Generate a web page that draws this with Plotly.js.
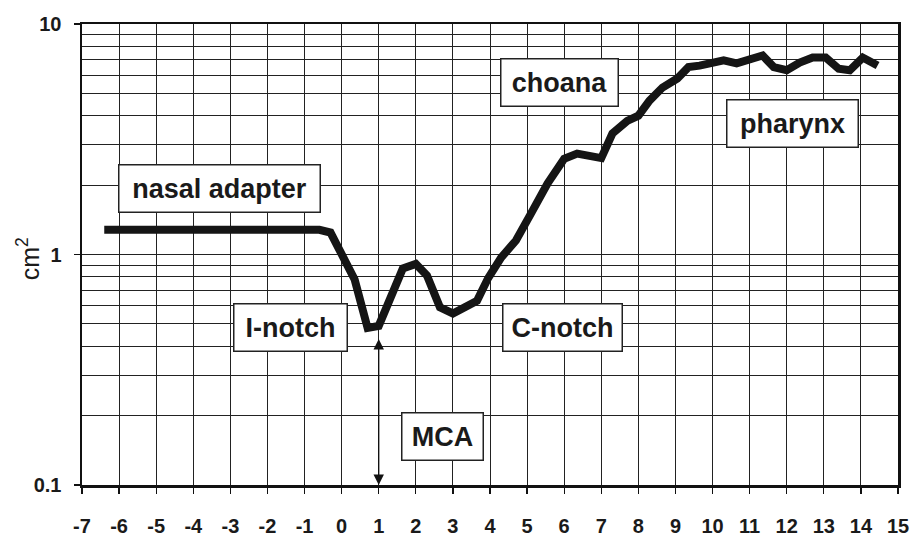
<!DOCTYPE html>
<html>
<head>
<meta charset="utf-8">
<script src="https://cdn.plot.ly/plotly-3.0.1.min.js"></script>
<style>html,body{margin:0;padding:0;background:#fff;}#chart{width:915px;height:536px;}</style>
</head>
<body>
<div id="chart"></div>
<script>
// Position along the nasal cavity (cm) and cross-sectional area (cm^2)
var distance = [-6.4, -0.6, -0.3, 0.05, 0.35, 0.55, 0.7, 1.0, 1.3, 1.65, 2.0, 2.3, 2.65, 3.0, 3.65, 3.95, 4.3, 4.7, 5.1, 5.55, 6.0, 6.35, 7.0, 7.3, 7.7, 8.0, 8.3, 8.65, 9.05, 9.35, 9.65, 10.3, 10.65, 11.0, 11.35, 11.65, 12.0, 12.35, 12.7, 13.05, 13.4, 13.7, 14.05, 14.45];
var area = [1.28, 1.28, 1.245, 0.97, 0.78, 0.59, 0.48, 0.49, 0.64, 0.87, 0.91, 0.81, 0.59, 0.555, 0.63, 0.79, 0.97, 1.15, 1.5, 2.03, 2.6, 2.74, 2.62, 3.35, 3.8, 4.0, 4.65, 5.3, 5.8, 6.5, 6.6, 6.95, 6.75, 6.95, 7.3, 6.5, 6.3, 6.8, 7.15, 7.15, 6.4, 6.3, 7.15, 6.6];

var xTicks = [-7,-6,-5,-4,-3,-2,-1,0,1,2,3,4,5,6,7,8,9,10,11,12,13,14,15];
var yMajorTicks = [0.1, 1, 10];
var yMajorLabels = ['0.1', '1', '10'];
var yMinorTicks = [0.2,0.3,0.4,0.5,0.6,0.7,0.8,0.9,2,3,4,5,6,7,8,9];

var regionLabels = ['nasal adapter', 'choana', 'pharynx', 'I-notch', 'C-notch', 'MCA'];
var regionX = [-3.28, 5.87, 12.16, -1.38, 5.95, 2.71];
var regionArea = [1.94, 5.6, 3.7, 0.48, 0.48, 0.163];
var mcaX = 1, mcaArea = 0.436;

var FONT = 'Liberation Sans, Arial, sans-serif';
var boxW = [200, 116, 130, 112, 118, 80];

var annotations = regionLabels.map(function(t, i) {
  return {
    x: regionX[i], y: Math.log10(regionArea[i]), xref: 'x', yref: 'y',
    text: '<b>' + t + '</b>', showarrow: false,
    font: {family: FONT, size: 27, color: '#1a1a1a'},
    bgcolor: '#ffffff', bordercolor: '#222', borderwidth: 1.5, borderpad: 0,
    width: boxW[i], height: 46, align: 'center', valign: 'middle'
  };
});
annotations.push({
  x: mcaX, y: Math.log10(0.1), xref: 'x', yref: 'y',
  ax: mcaX, ay: Math.log10(mcaArea), axref: 'x', ayref: 'y',
  text: '', showarrow: true, arrowside: 'end+start',
  arrowhead: 2, startarrowhead: 2, arrowsize: 1.6, startarrowsize: 1.6,
  arrowwidth: 1.3, arrowcolor: '#111', standoff: 0, startstandoff: 0
});
annotations.push({
  x: -0.066, y: 0.49, xref: 'paper', yref: 'paper',
  text: 'cm<sup>2</sup>', showarrow: false, textangle: -90,
  xanchor: 'center', yanchor: 'middle',
  font: {family: FONT, size: 25, color: '#1a1a1a'}
});

var trace = {
  x: distance, y: area, type: 'scatter', mode: 'lines',
  line: {color: '#151515', width: 8, shape: 'linear'},
  hoverinfo: 'skip'
};

var layout = {
  width: 915, height: 536,
  margin: {l: 82, r: 17, t: 24, b: 51},
  paper_bgcolor: '#ffffff', plot_bgcolor: '#ffffff',
  showlegend: false,
  xaxis: {
    range: [-7, 15], tickmode: 'array', tickvals: xTicks,
    ticktext: xTicks.map(function(v) { return '<b>' + v + '</b>'; }),
    showgrid: true, gridcolor: '#222', gridwidth: 1,
    zeroline: false, showline: true, linecolor: '#111', linewidth: 2.5, mirror: true,
    ticks: 'outside', ticklen: 6, tickcolor: '#111', tickwidth: 1.2,
    ticklabelstandoff: 15,
    tickfont: {family: FONT, size: 20, color: '#1a1a1a'}
  },
  yaxis: {
    type: 'log', range: [-1, 1],
    tickmode: 'array', tickvals: yMajorTicks,
    ticktext: yMajorLabels.map(function(v) { return '<b>' + v + '</b>'; }),
    showgrid: true, gridcolor: '#222', gridwidth: 1,
    minor: {tickmode: 'array', tickvals: yMinorTicks, showgrid: true, gridcolor: '#222', gridwidth: 1, ticks: ''},
    zeroline: false, showline: true, linecolor: '#111', linewidth: 2.5, mirror: true,
    ticks: 'outside', ticklen: 6, tickcolor: '#111', tickwidth: 1.2,
    ticklabelstandoff: 8,
    tickfont: {family: FONT, size: 20, color: '#1a1a1a'}
  },
  annotations: annotations
};

Plotly.newPlot('chart', [trace], layout, {displayModeBar: false, staticPlot: true});
</script>
</body>
</html>
